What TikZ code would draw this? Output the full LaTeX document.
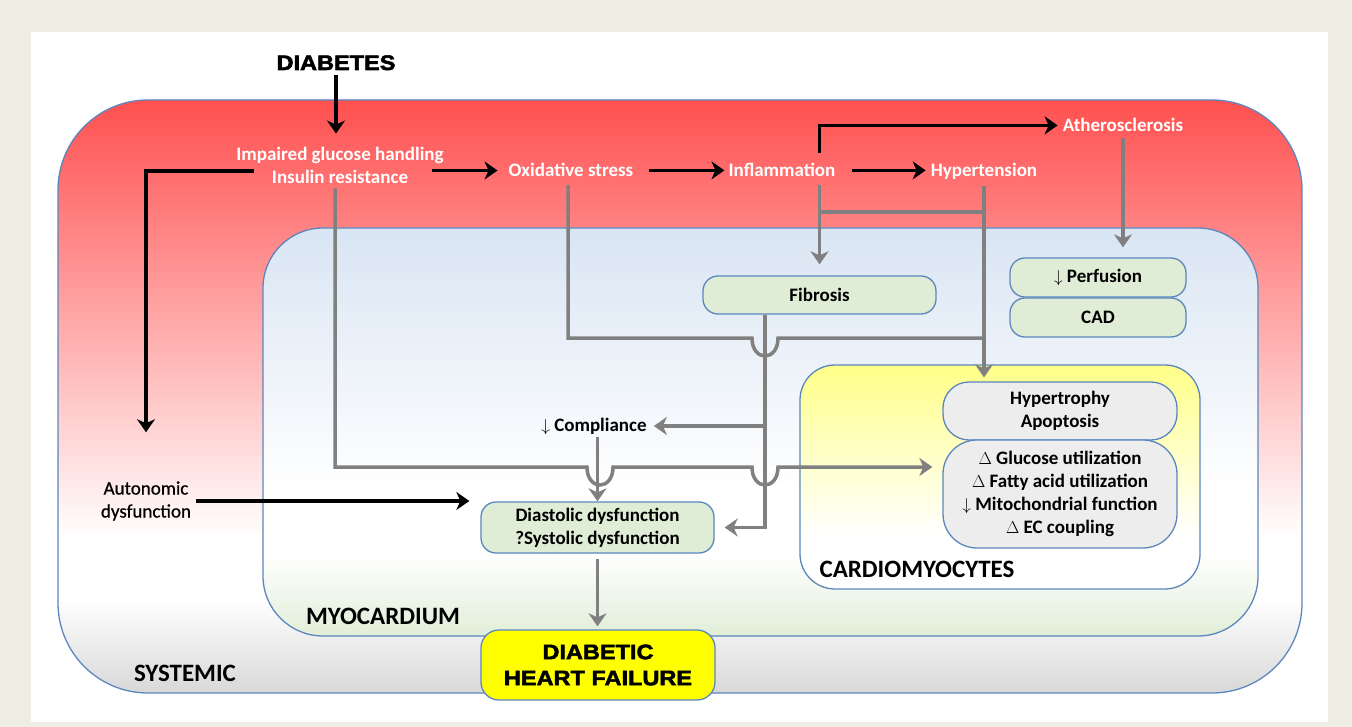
\documentclass[tikz,border=0pt]{standalone}
\usepackage{fontspec}
\setmainfont{Carlito}
\newfontfamily\heavy[FakeBold=2.5,FakeStretch=1.12]{Liberation Sans}
\newfontfamily\medium[FakeBold=0.8]{Carlito}
\usetikzlibrary{arrows.meta}
\definecolor{beige}{HTML}{EFEEE4}
\definecolor{bord}{HTML}{5B87BE}
\definecolor{sred}{HTML}{FF5050}
\definecolor{sgrey}{HTML}{D8D8D8}
\definecolor{mblue}{HTML}{D9E5F3}
\definecolor{mgreen}{HTML}{E1EED8}
\definecolor{cyel}{HTML}{FFFF88}
\definecolor{boxgreen}{HTML}{E0EDD6}
\definecolor{boxgrey}{HTML}{EDEDED}
\definecolor{arrgrey}{HTML}{808080}
\definecolor{dhfyellow}{HTML}{FFFF00}
\pgfdeclareverticalshading{systemicshade}{100bp}{color(0bp)=(sgrey); color(25bp)=(sgrey); color(33bp)=(white); color(38bp)=(white); color(75bp)=(sred); color(100bp)=(sred)}
\pgfdeclareverticalshading{myoshade}{100bp}{color(0bp)=(mgreen); color(25bp)=(mgreen); color(35bp)=(white); color(43bp)=(white); color(75bp)=(mblue); color(100bp)=(mblue)}
\pgfdeclareverticalshading{cardioshade}{100bp}{color(0bp)=(white); color(25bp)=(white); color(37bp)=(white); color(75bp)=(cyel); color(100bp)=(cyel)}
\newcommand\labfont{\fontsize{19}{23}\selectfont\bfseries}
\newcommand\biglabfont{\fontsize{25}{30}\selectfont\bfseries}
\newcommand\heavyfont{\heavy\fontsize{21}{26}\selectfont\bfseries}
\tikzset{
  wlab/.style={text=white, font=\labfont, inner sep=0pt, align=center},
  blab/.style={text=black, font=\labfont, inner sep=0pt, align=center},
  region/.style={draw=bord, line width=1.3pt, shade},
  box/.style={draw=bord, line width=1.3pt, font=\labfont, inner sep=0pt, align=center},
  blk/.style={draw=black, line width=3.5pt, -{Stealth[length=13pt,width=18pt,inset=4pt]}},
  gry/.style={draw=arrgrey, line width=3.5pt, -{Stealth[length=13pt,width=18pt,inset=4pt]}},
  gline/.style={draw=arrgrey, line width=3.5pt},
}
\begin{document}
\begin{tikzpicture}[x=1pt,y=-1pt]
\useasboundingbox (0,0) rectangle (1352,727);
\fill[beige] (0,0) rectangle (1352,727);
\fill[white] (31,32) rectangle (1328,722);
% regions
\path[region, shading=systemicshade, rounded corners=90pt] (58,100) rectangle (1302,693);
\path[region, shading=myoshade, rounded corners=60pt] (263,228) rectangle (1258,636);
\path[region, shading=cardioshade, rounded corners=35pt] (800,365) rectangle (1200,589);
% region labels
\node[font=\biglabfont, inner sep=0pt, anchor=base] (lsys) at (185,681) {SYSTEMIC};
\node[font=\biglabfont, inner sep=0pt, anchor=base] (lmyo) at (383,624) {MYOCARDIUM};
\node[font=\biglabfont, inner sep=0pt, anchor=base] (lcar) at (917,577) {CARDIOMYOCYTES};
% nodes
\node[font=\heavyfont, inner sep=0pt, anchor=base] (diab) at (336,70) {DIABETES};
\node[wlab] (igh) at (340,165) {Impaired glucose handling\\Insulin resistance};
\node[wlab, anchor=base] (ox) at (571,177) {Oxidative stress};
\node[wlab, anchor=base] (infl) at (782,177) {Inflammation};
\node[wlab, anchor=base] (hyp) at (984,177) {Hypertension};
\node[wlab, anchor=base] (ath) at (1123,132) {Atherosclerosis};
\node[box, fill=boxgreen, rounded corners=15pt, minimum width=233pt, minimum height=38pt] (fib) at (819.5,295) {Fibrosis};
\node[box, fill=boxgreen, rounded corners=15pt, minimum width=176pt, minimum height=39pt] (perf) at (1098,277.5) {$\downarrow$ Perfusion};
\node[box, fill=boxgreen, rounded corners=15pt, minimum width=176pt, minimum height=39pt] (cad) at (1098,317.5) {CAD};
\node[blab, anchor=base] (comp) at (594,431) {$\downarrow$ Compliance};
\node[box, fill=boxgreen, rounded corners=15pt, minimum width=233pt, minimum height=51pt] (dia) at (597.5,527.5) {Diastolic dysfunction\\?Systolic dysfunction};
\node[text=black, font=\medium\fontsize{19}{23}\selectfont, inner sep=0pt, align=center] (auto) at (146,501) {Autonomic\\dysfunction};
\node[box, fill=dhfyellow, rounded corners=18pt, minimum width=234pt, minimum height=70pt, font=\heavyfont] (dhf) at (598,665) {DIABETIC\\HEART FAILURE};
\node[box, fill=boxgrey, rounded corners=26pt, minimum width=234pt, minimum height=58pt] (hyt) at (1060,411) {Hypertrophy\\Apoptosis};
\node[box, fill=boxgrey, rounded corners=34pt, minimum width=234pt, minimum height=108pt] (met) at (1060,494) {$\Delta$ Glucose utilization\\$\Delta$ Fatty acid utilization\\$\downarrow$ Mitochondrial function\\$\Delta$ EC coupling};
% helper coordinates
\coordinate (igl) at ([xshift=18pt,yshift=-6pt]igh.west);
\coordinate (igr) at ([xshift=-12pt,yshift=-5.5pt]igh.east);
\coordinate (ign) at ([xshift=-16pt,yshift=17pt]infl.east);
\coordinate (igs) at ([xshift=-16pt,yshift=-8pt]infl.base east);
\coordinate (fv) at ([xshift=-54.5pt]fib.south);
\coordinate (metin) at ([yshift=27pt]met.west);
% black connectors
\draw[blk, shorten <=5pt, shorten >=13pt] (diab.base) -- (diab.base |- igh.north);
\draw[blk, shorten >=49pt] (igl) -| (auto.north);
\draw[blk, shorten >=11pt] (igr) -- (igr -| ox.west);
\draw[blk, shorten <=16pt, shorten >=4pt] (ox.east) -- (infl.west);
\draw[blk, shorten <=16pt, shorten >=5pt] (infl.east) -- (infl.east -| hyp.west);
\draw[blk, shorten >=5pt] (ign) |- (ath.west);
\draw[blk, shorten <=5pt, shorten >=11pt] (auto.east) -- (auto.east -| dia.west);
% grey connectors
\draw[gry, shorten <=6pt, shorten >=10pt] (ath.base) -- (ath.base |- perf.north);
\draw[gry, shorten >=11pt] (igs) -- (igs |- fib.north);
\draw[gline] (igs |- 0,212) -- (hyp.base |- 0,212);
\draw[gry, shorten <=9pt, shorten >=4pt] (hyp.base) -- (hyp.base |- hyt.north);
\draw[gline] ([xshift=-3pt,yshift=-8pt]ox.base) |- (752,338) .. controls (752,362) and (778,362) .. (778,338) -- (hyp.base |- 0,338);
\draw[gry, shorten >=10pt] (fv) |- (dia.east);
\draw[gry, shorten >=7pt] (fv |- comp.east) -- (comp.east);
\draw[gry, shorten <=6pt] (dia.north |- comp.base) -- (dia.north);
\draw[gry, shorten >=10pt] ([xshift=-5pt,yshift=-5pt]igh.south) |- (587,467) .. controls (587,491) and (613,491) .. (613,467) -- (752,467) .. controls (752,491) and (778,491) .. (778,467) -- (metin);
\draw[gry, shorten <=5pt, shorten >=3pt] (dia.south) -- (dia.south |- dhf.north);
\end{tikzpicture}
\end{document}
